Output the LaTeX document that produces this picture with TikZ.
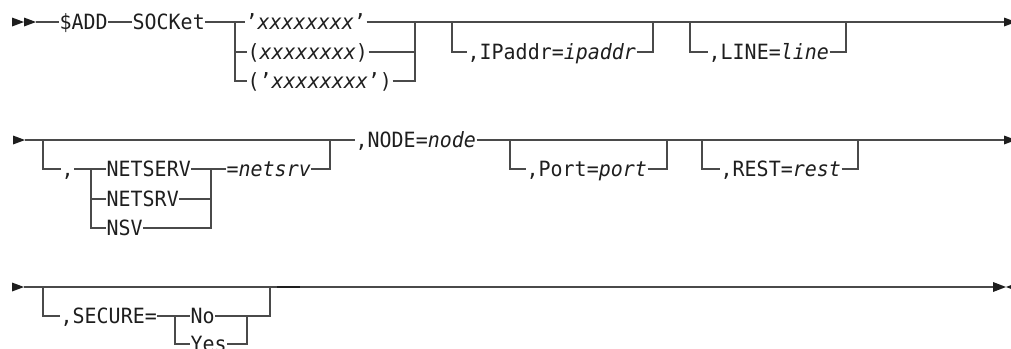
\documentclass[tikz,border=0pt]{standalone}
\usepackage{fontspec}
\setmonofont[FakeStretch=0.95]{DejaVu Sans Mono}
\usepackage{tikz}
\definecolor{railgray}{HTML}{4a4a4a}
\definecolor{railink}{HTML}{1e1e1e}
\usetikzlibrary{positioning}
\tikzstyle{rail} = [draw=railgray, line width=1.3pt]
\tikzstyle{kw} = [font=\ttfamily\fontsize{21}{21}\selectfont, text=railink, inner xsep=0.5pt, inner ysep=0pt, text height=15.3pt, text depth=0pt, anchor=west]
\tikzstyle{railtip} = [fill=railink, draw=none]

\begin{document}
\begin{tikzpicture}[x=1pt,y=-1pt]
	\useasboundingbox (0,0) rectangle (1011,348);
	\clip (0,0) rectangle (1011,348);

	% First line
	\fill[railtip] (12,17.5) -- (24,22) -- (12,26.5) -- cycle;
	\fill[railtip] (24,17.5) -- (36,22) -- (24,26.5) -- cycle;
	\coordinate (start1) at (36,22);
	\coordinate (end1) at (1004,22);
	\node[kw] (add) at (59,22) {\$ADD};
	\node[kw] (sock) at (132,22) {SOCKet};
		% Name choice:
	\coordinate (chA) at (235,22);
	\coordinate (chB) at (415,22);
	\node[kw] (q1) at (245,22) {’\textit{xxxxxxxx}’};
	\node[kw] (q2) at (247,52) {(\textit{xxxxxxxx})};
	\node[kw] (q3) at (247,81) {(’\textit{xxxxxxxx}’)};
		% Optional keywords:
	\coordinate (ipA) at (452,22);
	\coordinate (ipB) at (653,22);
	\node[kw] (ip) at (467,52) {,IPaddr=\textit{ipaddr}};
	\coordinate (lnA) at (690,22);
	\coordinate (lnB) at (846,22);
	\node[kw] (ln) at (708,52) {,LINE=\textit{line}};
	\draw[rail] (start1) -- (add.west) (add.east) -- (sock.west)
		(sock.east) -- (q1.west) (q1.east) -- (end1);
	\draw[rail] (chA) |- (q2.west) (chA) |- (q3.west);
	\draw[rail] (q2.east) -| (chB) (q3.east) -| (chB);
	\draw[rail] (ipA) |- (ip.west) (ip.east) -| (ipB);
	\draw[rail] (lnA) |- (ln.west) (ln.east) -| (lnB);
	\fill[railtip] (1004,17.5) -- (1016,22) -- (1004,26.5) -- cycle;

	% Second line
	\fill[railtip] (13,135.5) -- (25,140) -- (13,144.5) -- cycle;
	\coordinate (start2) at (25,140);
	\coordinate (end2) at (1004,140);
	\node[kw] (nd) at (355,140) {,NODE=\textit{node}};
	\draw[rail] (start2) -- (nd.west) (nd.east) -- (end2);
		% Optional server keyword:
	\coordinate (nsA) at (43,140);
	\coordinate (nsB) at (330,140);
	\coordinate (nsC) at (91,169);
	\coordinate (nsD) at (211,169);
	\node[kw] (cm) at (61,169) {,};
	\node[kw] (ns1) at (106,169) {NETSERV};
	\node[kw] (ns2) at (106,199) {NETSRV};
	\node[kw] (ns3) at (106,228) {NSV};
	\node[kw] (eq) at (226,169) {=\textit{netsrv}};
	\draw[rail] (nsA) |- (cm.west) (cm.east) -- (ns1.west);
	\draw[rail] (nsC) |- (ns2.west) (nsC) |- (ns3.west);
	\draw[rail] (ns1.east) -- (eq.west) (ns2.east) -| (nsD) (ns3.east) -| (nsD);
	\draw[rail] (eq.east) -| (nsB);
		% Port and rest:
	\coordinate (ptA) at (510,140);
	\coordinate (ptB) at (667,140);
	\node[kw] (pt) at (526,169) {,Port=\textit{port}};
	\coordinate (rsA) at (702,140);
	\coordinate (rsB) at (858,140);
	\node[kw] (rs) at (720,169) {,REST=\textit{rest}};
	\draw[rail] (ptA) |- (pt.west) (pt.east) -| (ptB);
	\draw[rail] (rsA) |- (rs.west) (rs.east) -| (rsB);
	\fill[railtip] (1004,135.5) -- (1016,140) -- (1004,144.5) -- cycle;

	% Third line
	\fill[railtip] (12,282.5) -- (24,287) -- (12,291.5) -- cycle;
	\coordinate (start3) at (24,287);
	\coordinate (end3) at (993,287);
	\draw[rail] (start3) -- (end3);
	\coordinate (scA) at (43,287);
	\coordinate (scB) at (270,287);
	\coordinate (scC) at (175,316);
	\coordinate (scD) at (247,316);
	\node[kw] (sc) at (60,316) {,SECURE=};
	\node[kw] (no) at (190,316) {No};
	\node[kw] (yes) at (190,344) {Yes};
	\draw[rail] (scA) |- (sc.west) (sc.east) -- (no.west);
	\draw[rail] (scC) |- (yes.west) (yes.east) -| (scD);
	\draw[rail] (no.east) -| (scB);
	\draw[draw=railink, line width=2pt] (277,287) -- (300,287);
		% End of statement:
	\fill[railtip] (993,282) -- (1006,287) -- (993,292) -- cycle;
	\fill[railtip] (1019,282) -- (1006,287) -- (1019,292) -- cycle;
\end{tikzpicture}
\end{document}
